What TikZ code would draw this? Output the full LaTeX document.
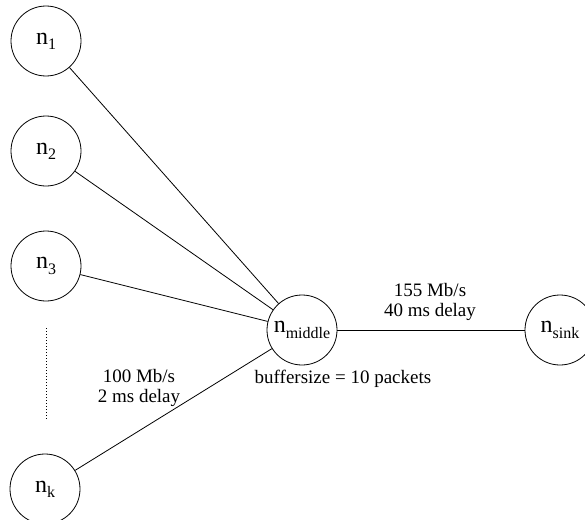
\documentclass[tikz,border=0pt]{standalone}
\usepackage{fontspec}
\setmainfont{Liberation Serif}
\newcommand{\nn}[1]{\fontsize{24}{24}\selectfont n\raisebox{-0.22em}{\fontsize{16}{16}\selectfont #1}}
\begin{document}
\begin{tikzpicture}[x=1pt,y=-1pt,
  host/.style={circle,draw,line width=0.8pt,minimum size=70pt,inner sep=0pt},
  link/.style={line width=0.8pt},
  lbl/.style={align=center,inner sep=0pt,font=\fontsize{19}{20}\selectfont}]
\useasboundingbox (0,0) rectangle (585,519);
\node[host] (n1) at (46,41) {\nn{1}};
\node[host] (n2) at (46,151) {\nn{2}};
\node[host] (n3) at (46,266) {\nn{3}};
\node[host] (nk) at (45,489) {\nn{k}};
\node[host] (mid) at (302,330) {\nn{middle}};
\node[host] (sink) at (560,330) {\nn{sink}};
\coordinate (dA) at (46.5,328);
\coordinate (dB) at (46.5,420);
\draw[line width=0.6pt,dash pattern=on 0.6pt off 2.4pt] (dA) -- (dB);
\draw[link] (n1) -- (mid);
\draw[link] (n2) -- (mid);
\draw[link] (n3) -- (mid);
\draw[link] (nk) -- (mid);
\draw[link] (mid) -- (sink);
\node[lbl] (l1) at (430,302) {155 Mb/s\\40 ms delay};
\node[lbl] (l2) at (343,379) {buffersize = 10 packets};
\node[lbl] (l3) at (139,388) {100 Mb/s\\2 ms delay};
\end{tikzpicture}
\end{document}
